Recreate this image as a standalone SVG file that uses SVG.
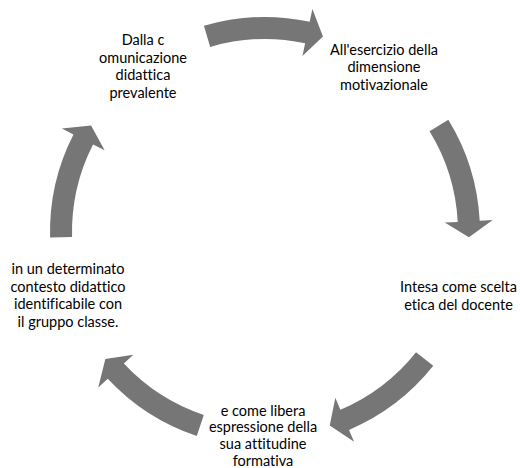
<svg xmlns="http://www.w3.org/2000/svg" xmlns:xlink="http://www.w3.org/1999/xlink" width="520" height="468" viewBox="0 0 520 468">
  <style>
    .lbl { font-family: Lato, "Open Sans", "Liberation Sans", sans-serif; font-size: 14.5px; fill: #000000; text-anchor: middle; font-variant-ligatures: none; font-feature-settings: "liga" 0, "dlig" 0; }
    .arrow { fill: #767676; stroke: none; }
  </style>
  <defs>
    <path id="arc-arrow" class="arrow" d="M471.15,170.94 A215,215 0 0 1 475.30,276.70 L488.02,279.40 L460.60,289.94 L441.07,269.42 L453.78,272.13 A193,193 0 0 0 450.05,177.18 Z"/>
  </defs>
  <rect x="0" y="0" width="520" height="468" fill="#ffffff"/>
  <g id="connectors">
    <use xlink:href="#arc-arrow" href="#arc-arrow" transform="rotate(-90 265 232)"/>
    <use xlink:href="#arc-arrow" href="#arc-arrow" transform="rotate(-15 265 232)"/>
    <use xlink:href="#arc-arrow" href="#arc-arrow" transform="rotate(55 265 232)"/>
    <use xlink:href="#arc-arrow" href="#arc-arrow" transform="rotate(125 265 232)"/>
    <use xlink:href="#arc-arrow" href="#arc-arrow" transform="rotate(195 265 232)"/>
  </g>
  <g id="node-1">
    <text class="lbl" x="143" y="45">Dalla c</text>
    <text class="lbl" x="143" y="62.6">omunicazione</text>
    <text class="lbl" x="143" y="80.2">didattica</text>
    <text class="lbl" x="143" y="97.8">prevalente</text>
  </g>
  <g id="node-2">
    <text class="lbl" x="384" y="54.5">All'esercizio della</text>
    <text class="lbl" x="384" y="72.1">dimensione</text>
    <text class="lbl" x="384" y="89.7">motivazionale</text>
  </g>
  <g id="node-3">
    <text class="lbl" x="458.5" y="292">Intesa come scelta</text>
    <text class="lbl" x="458.5" y="309.6">etica del docente</text>
  </g>
  <g id="node-4">
    <text class="lbl" x="263" y="415.5">e come libera</text>
    <text class="lbl" x="263" y="432.4">espressione della</text>
    <text class="lbl" x="263" y="449.3">sua attitudine</text>
    <text class="lbl" x="263" y="466">formativa</text>
  </g>
  <g id="node-5">
    <text class="lbl" x="68" y="274">in un determinato</text>
    <text class="lbl" x="68" y="291.6">contesto didattico</text>
    <text class="lbl" x="68" y="309.2">identificabile con</text>
    <text class="lbl" x="68" y="326.8">il gruppo classe.</text>
  </g>
</svg>
